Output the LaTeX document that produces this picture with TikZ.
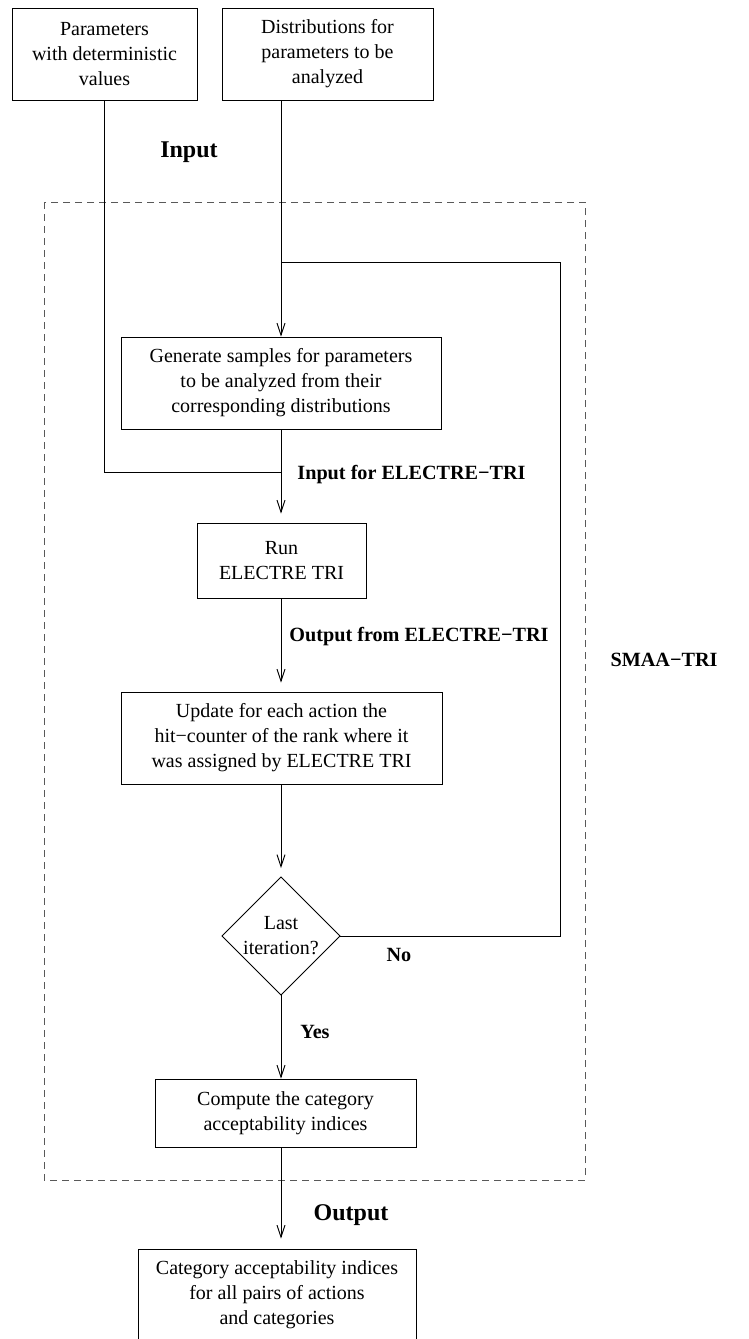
\documentclass[tikz,border=0pt]{standalone}
\usepackage{fontspec}
\setmainfont{Liberation Serif}
\usetikzlibrary{arrows.meta,calc}
\tikzset{
  box/.style={draw, line width=0.9pt, rectangle, align=center, inner sep=0pt,
    font=\fontsize{20}{25}\selectfont},
  txt/.style={align=center, inner sep=0pt, font=\fontsize{20}{25}\selectfont},
  lbl/.style={inner sep=0pt, font=\fontsize{20.2}{25}\selectfont\bfseries},
  biglbl/.style={inner sep=0pt, font=\fontsize{24}{28}\selectfont\bfseries},
  conn/.style={line width=0.9pt},
  arr/.style={line width=0.9pt, -{Straight Barb[length=12pt,width=8pt,line width=0.9pt]}},
  region/.style={draw=black!65, line width=0.9pt, dash pattern=on 7pt off 5pt}
}
\begin{document}
\begin{tikzpicture}[x=1pt,y=-1pt]
\useasboundingbox (0,0) rectangle (748,1339);
% dashed region
\draw[region] (44,202) rectangle (585,1180);
% nodes
\node[box, minimum width=185, minimum height=92] (p1) at (104.5,54) {Parameters\\with deterministic\\values};
\node[box, minimum width=211, minimum height=92] (p2) at (327.5,54) {Distributions for\\parameters to be\\analyzed};
\node[box, minimum width=320, minimum height=92] (gen) at (281,383) {Generate samples for parameters\\to be analyzed from their\\corresponding distributions};
\node[box, minimum width=169, minimum height=75] (run) at (281.5,560.5) {Run\\ELECTRE TRI};
\node[box, minimum width=321, minimum height=92] (upd) at (281.5,738) {Update for each action the\\hit\textminus counter of the rank where it\\was assigned by ELECTRE TRI};
\node[txt] (dec) at (281,936) {Last\\iteration?};
\coordinate (dtop) at (281,877);
\coordinate (dbot) at (281,995);
\coordinate (dleft) at (222,936);
\coordinate (dright) at (340,936);
\draw[conn] (dtop) -- (dright) -- (dbot) -- (dleft) -- cycle;
\node[box, minimum width=261, minimum height=68] (comp) at (285.5,1113) {Compute the category\\acceptability indices};
\node[box, minimum width=278, minimum height=92] (out) at (277,1295) {Category acceptability indices\\for all pairs of actions\\and categories};
% helper coordinates
\coordinate (p2out) at (281,100);
\coordinate (loopjoin) at (281,262);
\coordinate (loopcorner1) at (560,262);
\coordinate (loopcorner2) at (560,936);
\coordinate (j1) at (281,472);
% connectors
\draw[arr] (p2out) -- (gen.north -| p2out);
\draw[conn] (dright) -- (loopcorner2) -- (loopcorner1) -- (loopjoin);
\draw[conn] (p1.south) |- (j1);
\draw[arr, shorten >=9pt] (gen.south -| j1) -- (run.north -| j1);
\draw[arr, shorten >=9pt] (run.south -| j1) -- (upd.north -| j1);
\draw[arr, shorten >=9pt] (upd.south -| dtop) -- (dtop);
\draw[arr] (dbot) -- (comp.north -| dbot);
\draw[arr, shorten >=10pt] (comp.south -| dbot) -- (out.north -| dbot);
% labels
\node[biglbl] (linput) at (189,152) {Input};
\node[lbl] (lin2) at (411.5,475) {Input for ELECTRE\textminus TRI};
\node[lbl] (lout2) at (419,637) {Output from ELECTRE\textminus TRI};
\node[lbl] (lsmaa) at (664,660) {SMAA\textminus TRI};
\node[lbl] (lno) at (399,955) {No};
\node[lbl] (lyes) at (315,1032) {Yes};
\node[biglbl] (lout) at (351,1215) {Output};
\end{tikzpicture}
\end{document}
